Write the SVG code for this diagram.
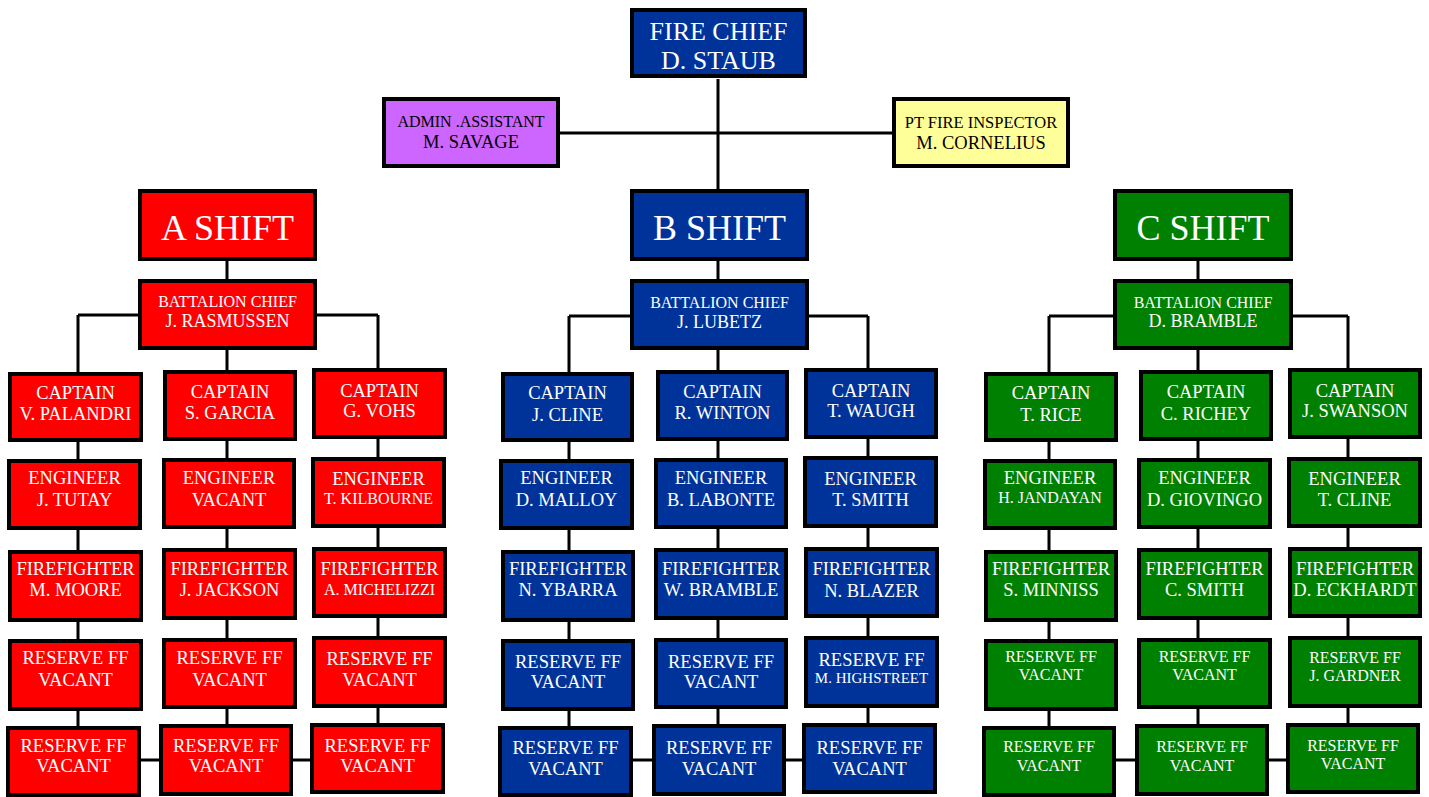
<svg xmlns="http://www.w3.org/2000/svg" width="1429" height="797" viewBox="0 0 1429 797">
<style>
.box{stroke:#000;stroke-width:4}
.red{fill:#FF0000}.blue{fill:#003399}.green{fill:#008000}.purple{fill:#CC66FF}.yellow{fill:#FFFF99}
text{font-family:"Liberation Serif","Times New Roman",serif;text-anchor:middle;fill:#fff;font-size:18.5px}
.s{font-size:16px}.xs{font-size:15px}.xl{font-size:36px}.fc{font-size:26px}.dk{fill:#000}.m{font-size:18px}
.conn{fill:none;stroke:#000;stroke-width:3}
</style>
<rect width="1429" height="797" fill="#fff"/>
<g id="connectors" class="conn">
<path d="M718 79V724M560 133H892"/>
<path d="M78 315H378M78 315V726M227 261V724M378 315V723M78 760H378"/>
<path d="M569 316H868M569 316V726M868 316V723M569 760H868"/>
<path d="M1049 316H1348M1049 316V726M1198 261V724M1348 316V723M1049 760H1348"/>
</g>
<g id="fire-chief"><rect class="box blue" x="632" y="10" width="173" height="66"/><text class="fc" x="718.5" y="40">FIRE CHIEF</text><text class="fc" x="718.5" y="69">D. STAUB</text></g>
<g id="admin"><rect class="box purple" x="384" y="99" width="174" height="67"/><text class="s dk" x="471" y="127">ADMIN .ASSISTANT</text><text class="dk" x="471" y="148">M. SAVAGE</text></g>
<g id="inspector"><rect class="box yellow" x="894" y="99" width="174" height="67"/><text class="dk" style="font-size:16.5px" x="981" y="128">PT FIRE INSPECTOR</text><text class="dk" x="981" y="149">M. CORNELIUS</text></g>

<g id="a-shift"><rect class="box red" x="140" y="191" width="175" height="68"/><text class="xl" x="227.5" y="240">A SHIFT</text></g>
<g id="a-bc"><rect class="box red" x="140" y="281" width="175" height="67"/><text class="s" x="227.5" y="307">BATTALION CHIEF</text><text class="m" x="227.5" y="327">J. RASMUSSEN</text></g>
<g id="a-cap1"><rect class="box red" x="10" y="374" width="131" height="66"/><text x="75.5" y="399">CAPTAIN</text><text x="75.5" y="420">V. PALANDRI</text></g>
<g id="a-cap2"><rect class="box red" x="165" y="372" width="130" height="67"/><text x="230" y="398">CAPTAIN</text><text x="230" y="419">S. GARCIA</text></g>
<g id="a-cap3"><rect class="box red" x="314" y="370" width="131" height="67"/><text x="379.5" y="397">CAPTAIN</text><text x="379.5" y="417">G. VOHS</text></g>
<g id="a-eng1"><rect class="box red" x="9" y="461" width="131" height="67"/><text x="74.5" y="484">ENGINEER</text><text x="74.5" y="506">J. TUTAY</text></g>
<g id="a-eng2"><rect class="box red" x="164" y="460" width="130" height="67"/><text x="229" y="484">ENGINEER</text><text x="229" y="506">VACANT</text></g>
<g id="a-eng3"><rect class="box red" x="313" y="459" width="131" height="67"/><text x="378.5" y="485">ENGINEER</text><text class="s" x="378.5" y="504">T. KILBOURNE</text></g>
<g id="a-ff1"><rect class="box red" x="10" y="552" width="131" height="68"/><text x="75.5" y="575">FIREFIGHTER</text><text x="75.5" y="596">M. MOORE</text></g>
<g id="a-ff2"><rect class="box red" x="164" y="550" width="131" height="68"/><text x="229.5" y="575">FIREFIGHTER</text><text x="229.5" y="596">J. JACKSON</text></g>
<g id="a-ff3"><rect class="box red" x="314" y="549" width="131" height="67"/><text x="379.5" y="575">FIREFIGHTER</text><text class="s" x="379.5" y="595">A. MICHELIZZI</text></g>
<g id="a-res1"><rect class="box red" x="10" y="641" width="131" height="68"/><text x="75.5" y="664">RESERVE FF</text><text x="75.5" y="686">VACANT</text></g>
<g id="a-res2"><rect class="box red" x="164" y="640" width="131" height="67"/><text x="229.5" y="664">RESERVE FF</text><text x="229.5" y="686">VACANT</text></g>
<g id="a-res3"><rect class="box red" x="314" y="638" width="131" height="68"/><text x="379.5" y="665">RESERVE FF</text><text x="379.5" y="686">VACANT</text></g>
<g id="a-bot1"><rect class="box red" x="8" y="728" width="131" height="67"/><text x="73.5" y="752">RESERVE FF</text><text x="73.5" y="772">VACANT</text></g>
<g id="a-bot2"><rect class="box red" x="161" y="726" width="130" height="68"/><text x="226" y="752">RESERVE FF</text><text x="226" y="772">VACANT</text></g>
<g id="a-bot3"><rect class="box red" x="312" y="725" width="131" height="67"/><text x="377.5" y="752">RESERVE FF</text><text x="377.5" y="772">VACANT</text></g>

<g id="b-shift"><rect class="box blue" x="632" y="191" width="175" height="68"/><text class="xl" x="719.5" y="240">B SHIFT</text></g>
<g id="b-bc"><rect class="box blue" x="632" y="281" width="175" height="67"/><text class="s" x="719.5" y="308">BATTALION CHIEF</text><text class="m" x="719.5" y="328">J. LUBETZ</text></g>
<g id="b-cap1"><rect class="box blue" x="503" y="374" width="129" height="66"/><text x="567.5" y="399">CAPTAIN</text><text x="567.5" y="421">J. CLINE</text></g>
<g id="b-cap2"><rect class="box blue" x="658" y="372" width="129" height="67"/><text x="722.5" y="398">CAPTAIN</text><text x="722.5" y="419">R. WINTON</text></g>
<g id="b-cap3"><rect class="box blue" x="806" y="370" width="130" height="67"/><text x="871" y="397">CAPTAIN</text><text x="871" y="417">T. WAUGH</text></g>
<g id="b-eng1"><rect class="box blue" x="501" y="461" width="131" height="67"/><text x="566.5" y="484">ENGINEER</text><text x="566.5" y="506">D. MALLOY</text></g>
<g id="b-eng2"><rect class="box blue" x="656" y="460" width="130" height="67"/><text x="721" y="484">ENGINEER</text><text x="721" y="506">B. LABONTE</text></g>
<g id="b-eng3"><rect class="box blue" x="805" y="458" width="131" height="68"/><text x="870.5" y="485">ENGINEER</text><text x="870.5" y="506">T. SMITH</text></g>
<g id="b-ff1"><rect class="box blue" x="503" y="552" width="130" height="68"/><text x="568" y="575">FIREFIGHTER</text><text x="568" y="596">N. YBARRA</text></g>
<g id="b-ff2"><rect class="box blue" x="656" y="550" width="130" height="68"/><text x="721" y="575">FIREFIGHTER</text><text x="721" y="596">W. BRAMBLE</text></g>
<g id="b-ff3"><rect class="box blue" x="806" y="549" width="131" height="67"/><text x="871.5" y="575">FIREFIGHTER</text><text x="871.5" y="597">N. BLAZER</text></g>
<g id="b-res1"><rect class="box blue" x="503" y="641" width="130" height="68"/><text x="568" y="668">RESERVE FF</text><text x="568" y="688">VACANT</text></g>
<g id="b-res2"><rect class="box blue" x="656" y="640" width="130" height="67"/><text x="721" y="668">RESERVE FF</text><text x="721" y="688">VACANT</text></g>
<g id="b-res3"><rect class="box blue" x="806" y="638" width="131" height="68"/><text x="871.5" y="666">RESERVE FF</text><text class="xs" x="871.5" y="683">M. HIGHSTREET</text></g>
<g id="b-bot1"><rect class="box blue" x="500" y="728" width="131" height="67"/><text x="565.5" y="754">RESERVE FF</text><text x="565.5" y="775">VACANT</text></g>
<g id="b-bot2"><rect class="box blue" x="654" y="726" width="130" height="68"/><text x="719" y="754">RESERVE FF</text><text x="719" y="775">VACANT</text></g>
<g id="b-bot3"><rect class="box blue" x="804" y="725" width="131" height="67"/><text x="869.5" y="754">RESERVE FF</text><text x="869.5" y="775">VACANT</text></g>

<g id="c-shift"><rect class="box green" x="1115" y="191" width="176" height="68"/><text class="xl" x="1203" y="240">C SHIFT</text></g>
<g id="c-bc"><rect class="box green" x="1115" y="281" width="176" height="67"/><text class="s" x="1203" y="308">BATTALION CHIEF</text><text class="m" x="1203" y="327">D. BRAMBLE</text></g>
<g id="c-cap1"><rect class="box green" x="986" y="374" width="130" height="66"/><text x="1051" y="399">CAPTAIN</text><text x="1051" y="421">T. RICE</text></g>
<g id="c-cap2"><rect class="box green" x="1141" y="372" width="130" height="67"/><text x="1206" y="398">CAPTAIN</text><text x="1206" y="420">C. RICHEY</text></g>
<g id="c-cap3"><rect class="box green" x="1290" y="370" width="130" height="67"/><text x="1355" y="397">CAPTAIN</text><text x="1355" y="417">J. SWANSON</text></g>
<g id="c-eng1"><rect class="box green" x="985" y="461" width="130" height="67"/><text x="1050" y="484">ENGINEER</text><text class="s" x="1050" y="503">H. JANDAYAN</text></g>
<g id="c-eng2"><rect class="box green" x="1139" y="460" width="131" height="67"/><text x="1204.5" y="484">ENGINEER</text><text x="1204.5" y="506">D. GIOVINGO</text></g>
<g id="c-eng3"><rect class="box green" x="1289" y="459" width="131" height="67"/><text x="1354.5" y="485">ENGINEER</text><text x="1354.5" y="506">T. CLINE</text></g>
<g id="c-ff1"><rect class="box green" x="986" y="552" width="130" height="68"/><text x="1051" y="575">FIREFIGHTER</text><text x="1051" y="596">S. MINNISS</text></g>
<g id="c-ff2"><rect class="box green" x="1139" y="550" width="131" height="68"/><text x="1204.5" y="575">FIREFIGHTER</text><text x="1204.5" y="596">C. SMITH</text></g>
<g id="c-ff3"><rect class="box green" x="1290" y="549" width="130" height="67"/><text x="1355" y="575">FIREFIGHTER</text><text x="1355" y="596">D. ECKHARDT</text></g>
<g id="c-res1"><rect class="box green" x="986" y="641" width="130" height="68"/><text class="s" x="1051" y="662">RESERVE FF</text><text class="s" x="1051" y="680">VACANT</text></g>
<g id="c-res2"><rect class="box green" x="1139" y="640" width="131" height="67"/><text class="s" x="1204.5" y="662">RESERVE FF</text><text class="s" x="1204.5" y="680">VACANT</text></g>
<g id="c-res3"><rect class="box green" x="1290" y="638" width="130" height="68"/><text class="s" x="1355" y="663">RESERVE FF</text><text class="s" x="1355" y="681">J. GARDNER</text></g>
<g id="c-bot1"><rect class="box green" x="984" y="728" width="130" height="67"/><text class="s" x="1049" y="752">RESERVE FF</text><text class="s" x="1049" y="771">VACANT</text></g>
<g id="c-bot2"><rect class="box green" x="1137" y="726" width="130" height="68"/><text class="s" x="1202" y="752">RESERVE FF</text><text class="s" x="1202" y="771">VACANT</text></g>
<g id="c-bot3"><rect class="box green" x="1288" y="725" width="130" height="67"/><text class="s" x="1353" y="751">RESERVE FF</text><text class="s" x="1353" y="769">VACANT</text></g>
</svg>
